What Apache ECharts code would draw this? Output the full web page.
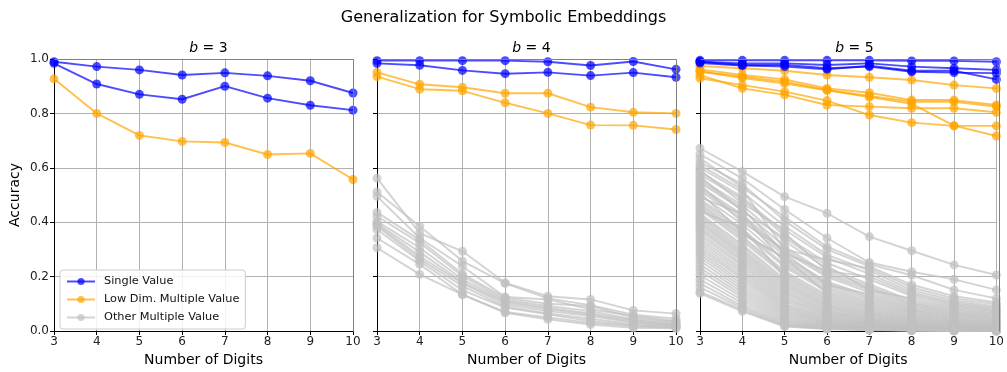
<!DOCTYPE html>
<html>
<head>
<meta charset="utf-8">
<script src="https://cdn.jsdelivr.net/npm/echarts@6/dist/echarts.min.js"></script>
<style>
  html, body { margin: 0; padding: 0; background: #fff; }
  #chart { width: 1007px; height: 372px; }
</style>
</head>
<body>
<div id="chart"></div>
<script>
// Number of digits on the x axis
const digits = [3, 4, 5, 6, 7, 8, 9, 10];
const yTicks = [0.0, 0.2, 0.4, 0.6, 0.8, 1.0];
const panelBases = [3, 4, 5];

// ---- b = 3 ----
const b3Single = [
  [0.990, 0.972, 0.960, 0.941, 0.949, 0.938, 0.920, 0.875],
  [0.984, 0.908, 0.870, 0.852, 0.900, 0.856, 0.830, 0.812]
];
const b3LowDim = [
  [0.927, 0.800, 0.719, 0.697, 0.693, 0.649, 0.653, 0.557]
];
const b3Other = [];

// ---- b = 4 ----
const b4Single = [
  [0.994, 0.994, 0.994, 0.994, 0.990, 0.976, 0.991, 0.962],
  [0.984, 0.977, 0.958, 0.946, 0.951, 0.939, 0.950, 0.933]
];
const b4LowDim = [
  [0.951, 0.907, 0.896, 0.874, 0.874, 0.823, 0.804, 0.800],
  [0.935, 0.889, 0.883, 0.839, 0.800, 0.757, 0.756, 0.741]
];
const b4Other = [
  [0.562, 0.360, 0.293, 0.177, 0.128, 0.116, 0.076, 0.064],
  [0.511, 0.385, 0.257, 0.175, 0.120, 0.095, 0.060, 0.045],
  [0.495, 0.342, 0.238, 0.125, 0.116, 0.080, 0.055, 0.037],
  [0.436, 0.335, 0.210, 0.122, 0.100, 0.092, 0.050, 0.033],
  [0.422, 0.324, 0.202, 0.115, 0.092, 0.073, 0.043, 0.030],
  [0.403, 0.306, 0.190, 0.110, 0.085, 0.065, 0.040, 0.024],
  [0.395, 0.290, 0.180, 0.105, 0.080, 0.060, 0.035, 0.022],
  [0.391, 0.275, 0.175, 0.098, 0.073, 0.055, 0.031, 0.020],
  [0.385, 0.265, 0.165, 0.090, 0.065, 0.045, 0.025, 0.018],
  [0.373, 0.257, 0.150, 0.086, 0.061, 0.037, 0.020, 0.015],
  [0.342, 0.245, 0.134, 0.070, 0.050, 0.030, 0.018, 0.012],
  [0.306, 0.208, 0.134, 0.067, 0.043, 0.024, 0.012, 0.010]
];

// ---- b = 5 ----
const b5Single = [
  [0.995, 0.995, 0.995, 0.995, 0.995, 0.993, 0.993, 0.990],
  [0.990, 0.984, 0.984, 0.978, 0.984, 0.972, 0.966, 0.960],
  [0.990, 0.978, 0.978, 0.966, 0.972, 0.953, 0.950, 0.948],
  [0.985, 0.976, 0.972, 0.962, 0.975, 0.957, 0.957, 0.925]
];
const b5LowDim = [
  [0.974, 0.966, 0.957, 0.941, 0.933, 0.923, 0.904, 0.892],
  [0.962, 0.941, 0.925, 0.892, 0.876, 0.849, 0.849, 0.831],
  [0.953, 0.935, 0.917, 0.886, 0.864, 0.843, 0.843, 0.825],
  [0.955, 0.930, 0.910, 0.885, 0.860, 0.835, 0.755, 0.717],
  [0.941, 0.892, 0.868, 0.831, 0.825, 0.819, 0.819, 0.804],
  [0.929, 0.904, 0.880, 0.847, 0.794, 0.766, 0.754, 0.754]
];
const b5Other = [
  [0.672, 0.586, 0.494, 0.433, 0.347, 0.295, 0.243, 0.206],
  [0.650, 0.561, 0.447, 0.342, 0.252, 0.218, 0.190, 0.151],
  [0.635, 0.528, 0.420, 0.310, 0.245, 0.205, 0.151, 0.120],
  [0.620, 0.540, 0.405, 0.300, 0.238, 0.170, 0.128, 0.105],
  [0.610, 0.520, 0.300, 0.262, 0.230, 0.160, 0.120, 0.098],
  [0.600, 0.510, 0.385, 0.280, 0.222, 0.150, 0.112, 0.090],
  [0.592, 0.470, 0.372, 0.270, 0.210, 0.142, 0.105, 0.085],
  [0.585, 0.492, 0.360, 0.220, 0.200, 0.135, 0.100, 0.080],
  [0.575, 0.485, 0.350, 0.250, 0.190, 0.128, 0.095, 0.076],
  [0.568, 0.440, 0.342, 0.240, 0.150, 0.120, 0.090, 0.072],
  [0.560, 0.462, 0.330, 0.230, 0.172, 0.112, 0.085, 0.068],
  [0.552, 0.452, 0.285, 0.220, 0.165, 0.105, 0.080, 0.064],
  [0.545, 0.445, 0.310, 0.212, 0.158, 0.100, 0.075, 0.060],
  [0.538, 0.400, 0.300, 0.205, 0.150, 0.095, 0.070, 0.056],
  [0.530, 0.428, 0.292, 0.198, 0.142, 0.090, 0.066, 0.052],
  [0.522, 0.420, 0.285, 0.170, 0.135, 0.085, 0.062, 0.048],
  [0.515, 0.410, 0.275, 0.182, 0.128, 0.080, 0.058, 0.045],
  [0.508, 0.360, 0.268, 0.175, 0.122, 0.076, 0.054, 0.042],
  [0.500, 0.392, 0.258, 0.168, 0.115, 0.072, 0.050, 0.038],
  [0.492, 0.430, 0.250, 0.160, 0.108, 0.068, 0.046, 0.035],
  [0.485, 0.375, 0.242, 0.152, 0.102, 0.064, 0.043, 0.032],
  [0.478, 0.365, 0.235, 0.145, 0.096, 0.060, 0.040, 0.030],
  [0.470, 0.355, 0.270, 0.138, 0.090, 0.056, 0.037, 0.027],
  [0.462, 0.348, 0.220, 0.132, 0.085, 0.052, 0.034, 0.025],
  [0.455, 0.340, 0.212, 0.125, 0.080, 0.048, 0.031, 0.022],
  [0.448, 0.332, 0.205, 0.118, 0.075, 0.045, 0.028, 0.020],
  [0.440, 0.380, 0.198, 0.112, 0.070, 0.042, 0.026, 0.018],
  [0.432, 0.318, 0.190, 0.106, 0.066, 0.039, 0.024, 0.016],
  [0.425, 0.310, 0.182, 0.100, 0.062, 0.036, 0.022, 0.015],
  [0.418, 0.300, 0.175, 0.095, 0.058, 0.033, 0.020, 0.013],
  [0.410, 0.292, 0.168, 0.090, 0.054, 0.030, 0.018, 0.012],
  [0.402, 0.285, 0.160, 0.085, 0.050, 0.028, 0.016, 0.011],
  [0.395, 0.278, 0.152, 0.080, 0.046, 0.026, 0.015, 0.010],
  [0.386, 0.270, 0.145, 0.075, 0.043, 0.024, 0.014, 0.009],
  [0.378, 0.262, 0.138, 0.070, 0.040, 0.022, 0.012, 0.008],
  [0.370, 0.255, 0.130, 0.066, 0.037, 0.020, 0.011, 0.007],
  [0.360, 0.245, 0.122, 0.062, 0.034, 0.018, 0.010, 0.006],
  [0.350, 0.238, 0.115, 0.058, 0.031, 0.016, 0.009, 0.005],
  [0.340, 0.228, 0.108, 0.054, 0.028, 0.015, 0.008, 0.005],
  [0.330, 0.220, 0.100, 0.050, 0.026, 0.013, 0.007, 0.004],
  [0.320, 0.210, 0.094, 0.046, 0.024, 0.012, 0.006, 0.004],
  [0.310, 0.200, 0.088, 0.042, 0.022, 0.011, 0.006, 0.003],
  [0.300, 0.192, 0.082, 0.038, 0.020, 0.010, 0.005, 0.003],
  [0.290, 0.182, 0.076, 0.035, 0.018, 0.009, 0.005, 0.003],
  [0.280, 0.172, 0.070, 0.032, 0.016, 0.008, 0.004, 0.002],
  [0.270, 0.162, 0.064, 0.029, 0.014, 0.007, 0.004, 0.002],
  [0.258, 0.152, 0.058, 0.026, 0.012, 0.006, 0.003, 0.002],
  [0.245, 0.142, 0.052, 0.023, 0.011, 0.005, 0.003, 0.002],
  [0.232, 0.132, 0.046, 0.020, 0.010, 0.005, 0.002, 0.001],
  [0.220, 0.122, 0.040, 0.018, 0.009, 0.004, 0.002, 0.001],
  [0.205, 0.112, 0.035, 0.016, 0.008, 0.004, 0.002, 0.001],
  [0.190, 0.102, 0.030, 0.014, 0.007, 0.003, 0.002, 0.001],
  [0.175, 0.092, 0.026, 0.012, 0.006, 0.003, 0.001, 0.001],
  [0.160, 0.085, 0.022, 0.010, 0.005, 0.002, 0.001, 0.001],
  [0.145, 0.078, 0.019, 0.008, 0.004, 0.002, 0.001, 0.000],
  [0.138, 0.072, 0.016, 0.007, 0.003, 0.002, 0.001, 0.000]
];

const seriesNames = ['Single Value', 'Low Dim. Multiple Value', 'Other Multiple Value'];
const seriesColors = ['#0000ff', '#ffa500', '#c0c0c0'];

const panels = [
  [b3Single, b3LowDim, b3Other],
  [b4Single, b4LowDim, b4Other],
  [b5Single, b5LowDim, b5Other]
];

const FONT = 'DejaVu Sans';
const gridLefts = [54, 377, 700];
const gridW = 299;
const gridTop = 59;
const gridH = 272;

const grids = gridLefts.map(l => ({
  left: l, top: gridTop, width: gridW, height: gridH
}));

const xAxes = gridLefts.map((l, i) => ({
  type: 'value', gridIndex: i, min: 3, max: 10, interval: 1,
  name: 'Number of Digits', nameLocation: 'middle', nameGap: 21,
  nameTextStyle: { fontFamily: FONT, fontSize: 14, color: '#000' },
  axisLine: { show: true, onZero: false, lineStyle: { color: '#000', width: 1 } },
  axisTick: { show: true, length: 4, lineStyle: { color: '#000' } },
  axisLabel: { fontFamily: FONT, fontSize: 12, color: '#222', margin: 5 },
  splitLine: { show: true, lineStyle: { color: '#b0b0b0', width: 1 } }
}));

const yAxes = gridLefts.map((l, i) => ({
  type: 'value', gridIndex: i, min: 0, max: 1, interval: 0.2,
  name: i === 0 ? 'Accuracy' : '', nameLocation: 'middle', nameGap: 32,
  nameTextStyle: { fontFamily: FONT, fontSize: 14, color: '#000' },
  axisLine: { show: true, lineStyle: { color: '#000', width: 1 } },
  axisTick: { show: true, length: 4, lineStyle: { color: '#000' } },
  axisLabel: {
    show: i === 0, fontFamily: FONT, fontSize: 12, color: '#222', margin: 5,
    formatter: v => yTicks.find(t => Math.abs(t - v) < 1e-9).toFixed(1)
  },
  splitLine: { show: true, lineStyle: { color: '#b0b0b0', width: 1 } }
}));

// Draw gray first, then orange, then blue on top
const series = [];
[2, 1, 0].forEach(kind => {
  panels.forEach((groups, p) => {
    groups[kind].forEach(vals => {
      series.push({
        type: 'line', name: seriesNames[kind],
        xAxisIndex: p, yAxisIndex: p,
        data: digits.map((d, k) => [d, vals[k]]),
        symbol: 'circle', symbolSize: 9, showSymbol: true,
        z: 2 + (2 - kind),
        lineStyle: { color: seriesColors[kind], width: 1.9, opacity: 0.7 },
        itemStyle: { color: seriesColors[kind], opacity: 0.7 },
        emphasis: { disabled: true },
        animation: false, silent: true
      });
    });
  });
});

// Legend-only entries so that all three labels show in the first panel
seriesNames.forEach((n, kind) => {
  if (panels[0][kind].length === 0) {
    series.push({
      type: 'line', name: n, xAxisIndex: 0, yAxisIndex: 0, data: [],
      symbol: 'circle', symbolSize: 9,
      lineStyle: { color: seriesColors[kind], width: 1.9, opacity: 0.7 },
      itemStyle: { color: seriesColors[kind], opacity: 0.7 },
      animation: false
    });
  }
});

const subTitles = panelBases.map((b, i) => ({
  text: '{i|b} = ' + b,
  left: gridLefts[i] + gridW / 2, top: 36, textAlign: 'center',
  textStyle: {
    fontFamily: FONT, fontSize: 14, fontWeight: 'normal', color: '#000',
    rich: { i: { fontFamily: FONT, fontSize: 14, fontStyle: 'italic', color: '#000' } }
  }
}));

// Top and right frame edges of each panel
const frames = gridLefts.map(l => ({
  type: 'polyline', z: 50, silent: true,
  shape: { points: [[l + 0.5, gridTop + 0.5], [l + gridW + 0.5, gridTop + 0.5], [l + gridW + 0.5, gridTop + gridH + 0.5]] },
  style: { stroke: '#808080', lineWidth: 1, fill: null }
}));

const option = {
  backgroundColor: '#fff',
  animation: false,
  title: [{
    text: 'Generalization for Symbolic Embeddings',
    left: 'center', top: 5,
    textStyle: { fontFamily: FONT, fontSize: 16, fontWeight: 'normal', color: '#000' }
  }].concat(subTitles),
  legend: {
    data: seriesNames,
    orient: 'vertical', left: 60, top: 270,
    itemWidth: 28, itemHeight: 9, itemGap: 7,
    padding: [6, 6, 6, 6],
    backgroundColor: 'rgba(255,255,255,0.85)',
    borderColor: '#cccccc', borderWidth: 1, borderRadius: 3,
    selectedMode: false,
    textStyle: { fontFamily: FONT, fontSize: 11.3, color: '#111', padding: [0, 0, 0, 4] }
  },
  grid: grids,
  xAxis: xAxes,
  yAxis: yAxes,
  series: series,
  graphic: frames
};

const chart = echarts.init(document.getElementById('chart'), null, { renderer: 'canvas' });
chart.setOption(option);
</script>
</body>
</html>
